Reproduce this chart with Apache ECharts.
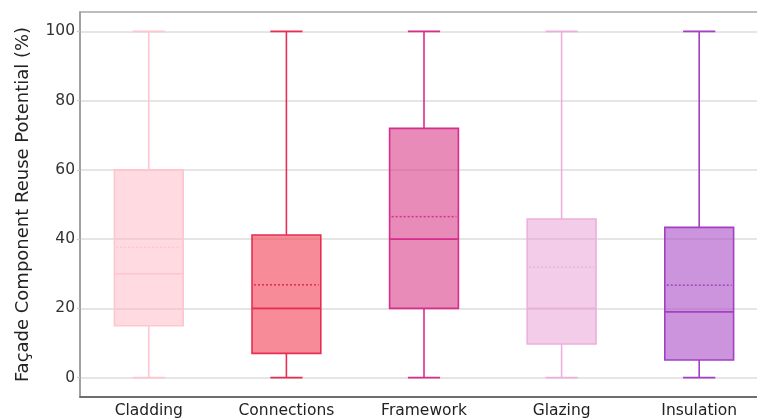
<!DOCTYPE html>
<html>
<head>
<meta charset="utf-8">
<script src="https://cdn.jsdelivr.net/npm/echarts@6/dist/echarts.min.js"></script>
<style>
  html, body { margin: 0; padding: 0; background: #fff; overflow: hidden; }
  /* the plot frame runs past the right edge of the window */
  #chart { width: 790px; height: 420px; }
</style>
</head>
<body>
<div id="chart"></div>
<script>
// Façade components and their reuse-potential distributions (%)
const categories = ['Cladding', 'Connections', 'Framework', 'Glazing', 'Insulation'];
const minValues    = [0, 0, 0, 0, 0];
const q1Values     = [15.0, 7.0, 20.0, 9.7, 5.1];
const medianValues = [30.0, 20.0, 40.0, 20.0, 19.0];
const q3Values     = [60.0, 41.2, 72.0, 45.8, 43.4];
const maxValues    = [100, 100, 100, 100, 100];
const meanValues   = [37.6, 26.8, 46.5, 31.9, 26.7];
const yTicks = [0, 20, 40, 60, 80, 100];

const fills = [
  'rgba(255,182,193,0.5)',
  'rgba(242,62,83,0.6)',
  'rgba(217,62,138,0.6)',
  'rgba(229,153,209,0.5)',
  'rgba(168,77,197,0.6)'
];
const strokes = ['#FFC6CF', '#E62E55', '#D62E8C', '#ECB0DD', '#A43FC4'];

const data = categories.map((c, i) => [
  i, minValues[i], q1Values[i], medianValues[i], q3Values[i], maxValues[i], meanValues[i]
]);

function renderBox(params, api) {
  const idx = api.value(0);
  const band = api.size([1, 0])[0];
  const boxHalf = band * 0.25;
  const capHalf = band * 0.117;
  const pMin = api.coord([idx, api.value(1)]);
  const pQ1 = api.coord([idx, api.value(2)]);
  const pMed = api.coord([idx, api.value(3)]);
  const pQ3 = api.coord([idx, api.value(4)]);
  const pMax = api.coord([idx, api.value(5)]);
  const pMean = api.coord([idx, api.value(6)]);
  const x = pQ1[0];
  const stroke = strokes[idx];
  const lw = 1.6;
  const line = (x1, y1, x2, y2, extra) => ({
    type: 'line',
    shape: { x1, y1, x2, y2 },
    style: Object.assign({ stroke, lineWidth: lw, fill: null }, extra || {})
  });
  return {
    type: 'group',
    children: [
      line(x, pQ3[1], x, pMax[1]),
      line(x, pQ1[1], x, pMin[1]),
      line(x - capHalf, pMax[1], x + capHalf, pMax[1]),
      line(x - capHalf, pMin[1], x + capHalf, pMin[1]),
      {
        type: 'rect',
        shape: { x: x - boxHalf, y: pQ3[1], width: boxHalf * 2, height: pQ1[1] - pQ3[1] },
        style: { fill: fills[idx], stroke, lineWidth: lw }
      },
      line(x - boxHalf, pMed[1], x + boxHalf, pMed[1]),
      line(x - boxHalf + 2, pMean[1], x + boxHalf - 2, pMean[1], { lineDash: [2, 2], lineWidth: 1.5 })
    ]
  };
}

const FONT = 'DejaVu Sans';
const chart = echarts.init(document.getElementById('chart'), null, { renderer: 'canvas' });
chart.setOption({
  animation: false,
  textStyle: { fontFamily: FONT },
  grid: {
    left: 80, top: 12, width: 688, height: 385,
    show: true, borderColor: '#a8a8a8', borderWidth: 1.5, backgroundColor: 'transparent'
  },
  xAxis: {
    type: 'category',
    data: categories,
    boundaryGap: true,
    axisLine: { onZero: false, lineStyle: { color: '#555', width: 1.5 } },
    axisTick: { show: false },
    axisLabel: { color: '#222', fontSize: 15.5, margin: 6, fontFamily: FONT },
    splitLine: { show: false }
  },
  yAxis: {
    type: 'value',
    min: -5.6,
    max: 105.6,
    name: 'Façade Component Reuse Potential (%)',
    nameLocation: 'middle',
    nameGap: 48,
    nameTextStyle: { color: '#222', fontSize: 18, fontFamily: FONT },
    axisLine: { show: true, lineStyle: { color: '#999', width: 1.5 } },
    axisTick: { show: true, customValues: yTicks, length: 3, lineStyle: { color: '#c8c8c8', width: 1.2 } },
    axisLabel: { customValues: yTicks, color: '#333', fontSize: 15.5, margin: 5, fontFamily: FONT },
    splitLine: { show: true, lineStyle: { color: '#dcdcdc', width: 1.5 } }
  },
  series: [{
    type: 'custom',
    renderItem: renderBox,
    encode: { x: 0, y: [1, 2, 3, 4, 5, 6] },
    data: data,
    z: 3
  }]
});
</script>
</body>
</html>
